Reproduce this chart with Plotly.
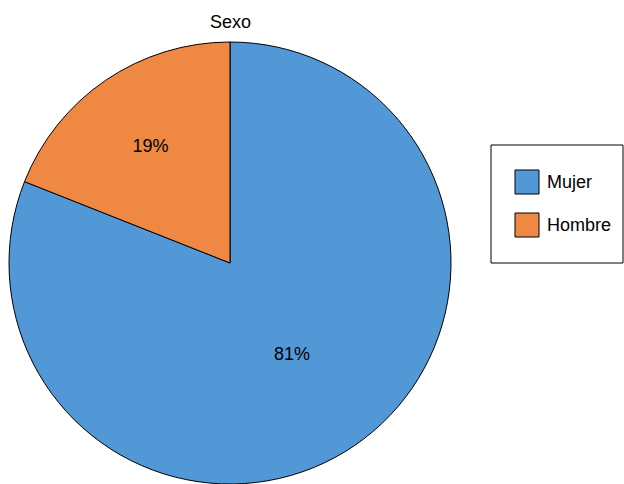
import plotly.graph_objects as go

labels = ["Mujer", "Hombre"]
values = [81, 19]
colors = ["#5298d6", "#ee8843"]
title_text = "Sexo"

W, H = 624, 484
ml, mr, mt, mb = 8, 172, 42, 0
pw = W - ml - mr
ph = H - mt - mb


def px(x):
    return (x - ml) / pw


def py(y):
    return 1 - (y - mt) / ph


fig = go.Figure(go.Pie(
    labels=labels, values=values, sort=False, direction="clockwise", rotation=0,
    marker=dict(colors=colors, line=dict(color="black", width=1)),
    textinfo="percent", textposition="inside", insidetextorientation="horizontal",
    textfont=dict(color="black", size=18), hoverinfo="label+percent",
    showlegend=False,
))

shapes = [dict(type="rect", xref="paper", yref="paper",
               x0=px(491), x1=px(623), y0=py(263), y1=py(145),
               line=dict(color="black", width=1), fillcolor="white")]
annotations = [dict(
    text=title_text, x=px(230), y=py(22),
    xref="paper", yref="paper", showarrow=False,
    font=dict(size=18), xanchor="center", yanchor="middle",
)]
for i, (lab, col) in enumerate(zip(labels, colors)):
    yc = 182 + i * 43
    shapes.append(dict(type="rect", xref="paper", yref="paper",
                       x0=px(515), x1=px(539), y0=py(yc + 12), y1=py(yc - 12),
                       line=dict(color="black", width=1), fillcolor=col))
    annotations.append(dict(text=lab, x=px(545), y=py(yc), xref="paper", yref="paper",
                            showarrow=False, xanchor="left", yanchor="middle",
                            font=dict(size=18)))

fig.update_layout(
    width=W, height=H,
    margin=dict(l=ml, r=mr, t=mt, b=mb, autoexpand=False),
    paper_bgcolor="white", plot_bgcolor="white",
    font=dict(family="Liberation Sans, Arial, sans-serif", size=18, color="black"),
    showlegend=False,
    shapes=shapes,
    annotations=annotations,
)

fig.write_html("out.html", config={"displayModeBar": False},
               post_script="document.body.style.margin='0';")
